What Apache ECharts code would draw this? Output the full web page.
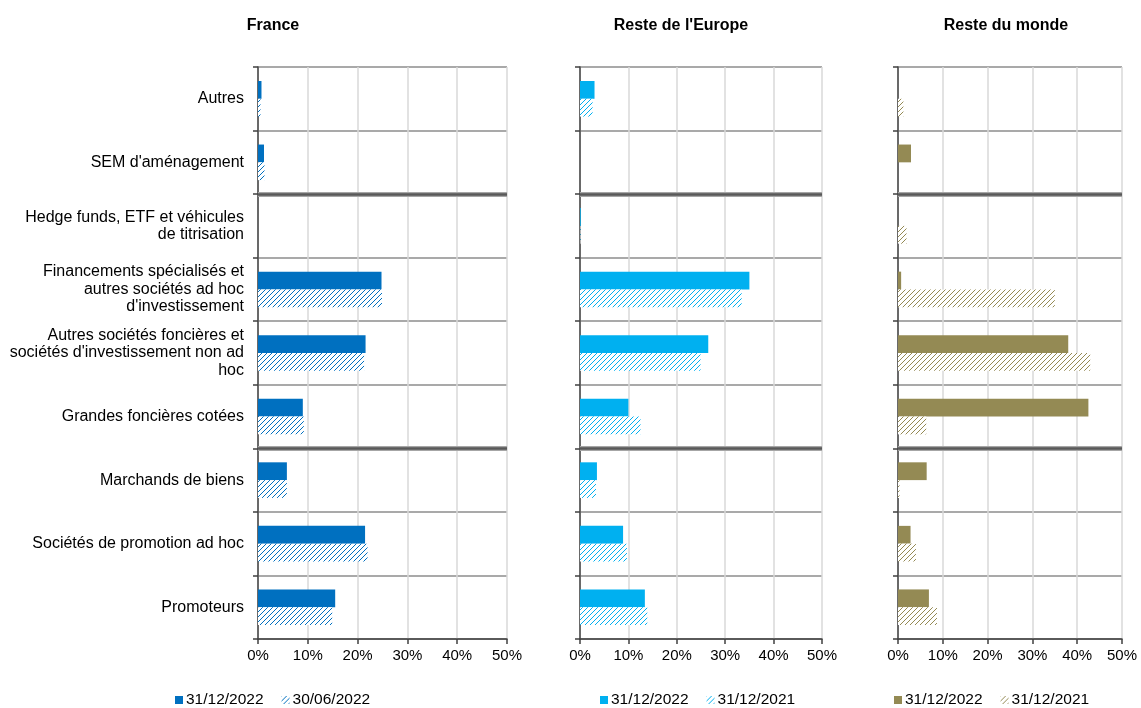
<!DOCTYPE html>
<html>
<head>
<meta charset="utf-8">
<script src="https://cdn.jsdelivr.net/npm/echarts@6/dist/echarts.min.js"></script>
<style>
  html, body { margin: 0; padding: 0; background: #fff; }
  #chart { width: 1141px; height: 708px; }
</style>
</head>
<body>
<div id="chart"></div>
<script>
// Categories, listed top to bottom as displayed
const categories = [
  'Autres',
  "SEM d'aménagement",
  'Hedge funds, ETF et véhicules\nde titrisation',
  'Financements spécialisés et\nautres sociétés ad hoc\nd\'investissement',
  "Autres sociétés foncières et\nsociétés d'investissement non ad\nhoc",
  'Grandes foncières cotées',
  'Marchands de biens',
  'Sociétés de promotion ad hoc',
  'Promoteurs'
];

// Shares in % per region and date
const france2022 = [0.7, 1.2, 0, 24.8, 21.6, 9.0, 5.8, 21.5, 15.5];
const france2206 = [0.5, 1.3, 0, 24.9, 21.3, 9.2, 5.8, 22.0, 14.9];
const europe2022 = [3.0, 0, 0.15, 35.0, 26.5, 10.0, 3.5, 8.9, 13.4];
const europe2021 = [2.6, 0, 0.1, 33.4, 24.9, 12.5, 3.3, 9.7, 13.9];
const monde2022  = [0, 2.9, 0, 0.7, 38.0, 42.5, 6.4, 2.8, 6.9];
const monde2021  = [1.2, 0, 1.9, 35.0, 42.9, 6.3, 0.35, 4.0, 8.7];

const panelTitles = ['France', "Reste de l'Europe", 'Reste du monde'];
const xTicks = [0, 10, 20, 30, 40, 50];
// Group separators (category boundaries counted from the top)
const groupBreaks = [2, 6];

const FONT = '"Liberation Sans", Arial, sans-serif';

function hatch(color) {
  const s = 5;
  const c = document.createElement('canvas');
  c.width = s; c.height = s;
  const g = c.getContext('2d');
  g.fillStyle = '#fff';
  g.fillRect(0, 0, s, s);
  g.strokeStyle = color;
  g.lineWidth = 1;
  g.beginPath();
  g.moveTo(0, s); g.lineTo(s, 0);
  g.moveTo(-1, 1); g.lineTo(1, -1);
  g.moveTo(s - 1, s + 1); g.lineTo(s + 1, s - 1);
  g.stroke();
  return { image: c, repeat: 'repeat' };
}

const panels = [
  { left: 258, right: 634, color: '#0070C0', solid: france2022, hatched: france2206,
    names: ['31/12/2022', '30/06/2022'], titleX: 273, legendX: 175, labels: true },
  { left: 580, right: 319, color: '#00B0F0', solid: europe2022, hatched: europe2021,
    names: ['31/12/2022 ', '31/12/2021'], titleX: 681, legendX: 600, labels: false },
  { left: 898, right: 19, color: '#948A54', solid: monde2022, hatched: monde2021,
    names: ['31/12/2022  ', '31/12/2021 '], titleX: 1006, legendX: 894, labels: false }
];

const option = {
  animation: false,
  textStyle: { fontFamily: FONT },
  title: panels.map((p, i) => ({
    text: panelTitles[i], left: p.titleX, top: 18, textAlign: 'center', padding: 0,
    textStyle: { fontFamily: FONT, fontSize: 16, fontWeight: 'bold', color: '#000' }
  })),
  legend: panels.map(p => ({
    left: p.legendX, top: 692, orient: 'horizontal', padding: 0,
    data: p.names, icon: 'rect', itemWidth: 8, itemHeight: 8, itemGap: 18,
    selectedMode: false,
    formatter: n => n.trim(),
    textStyle: { fontFamily: FONT, fontSize: 15.5, color: '#000', padding: [0, 0, 0, -2] }
  })),
  grid: panels.map(p => ({ left: p.left, right: p.right, top: 67, bottom: 69, containLabel: false })),
  xAxis: panels.map((p, i) => ({
    type: 'value', gridIndex: i, min: 0, max: 50, interval: 10, position: 'bottom',
    axisLine: { show: true, onZero: false, lineStyle: { color: '#404040', width: 1.5 } },
    axisTick: { show: true, length: 5, lineStyle: { color: '#404040', width: 1.5 } },
    axisLabel: { formatter: v => v + '%', fontFamily: FONT, fontSize: 15, color: '#000', margin: 9 },
    splitLine: { show: true, lineStyle: { color: '#d9d9d9', width: 1.5 } }
  })),
  yAxis: panels.map((p, i) => ({
    type: 'category', gridIndex: i, data: categories, inverse: true,
    axisLine: { show: true, onZero: false, lineStyle: { color: '#404040', width: 1.5 } },
    axisTick: { show: true, length: 5, lineStyle: { color: '#404040', width: 1.5 } },
    axisLabel: { show: p.labels, fontFamily: FONT, fontSize: 16, color: '#000',
      margin: 14, lineHeight: 17.5, align: 'right' },
    splitLine: { show: true, lineStyle: { color: '#8c8c8c', width: 1.5 } }
  })).concat(panels.map((p, i) => ({
    type: 'value', gridIndex: i, min: 0, max: categories.length, inverse: true, show: false
  }))),
  series: []
};

panels.forEach((p, i) => {
  option.series.push({
    name: p.names[0], type: 'bar', xAxisIndex: i, yAxisIndex: i,
    data: p.solid, barGap: '0%', barCategoryGap: '44%',
    itemStyle: { color: p.color }
  });
  option.series.push({
    name: p.names[1], type: 'bar', xAxisIndex: i, yAxisIndex: i,
    data: p.hatched, barGap: '0%', barCategoryGap: '44%',
    itemStyle: { color: hatch(p.color) }
  });
  // Group separator lines drawn across the panel
  const lines = [];
  groupBreaks.forEach(b => {
    lines.push({ yAxis: b, lineStyle: { color: '#a6a6a6', width: 5, type: 'solid' } });
    lines.push({ yAxis: b, lineStyle: { color: '#595959', width: 2.5, type: 'solid' } });
  });
  option.series.push({
    type: 'line', xAxisIndex: i, yAxisIndex: panels.length + i,
    data: [[0, 0]], symbol: 'none', silent: true, lineStyle: { opacity: 0 },
    markLine: { silent: true, symbol: 'none', label: { show: false }, data: lines, animation: false }
  });
});

const chart = echarts.init(document.getElementById('chart'), null, { renderer: 'canvas' });
chart.setOption(option);
</script>
</body>
</html>
